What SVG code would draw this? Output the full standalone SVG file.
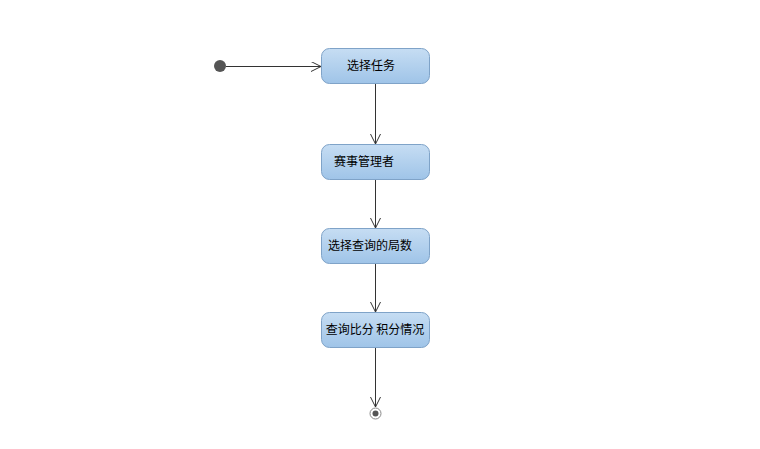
<svg xmlns="http://www.w3.org/2000/svg" width="760" height="449" viewBox="0 0 760 449">
<defs>
<linearGradient id="g" x1="0" y1="0" x2="0" y2="1"><stop offset="0" stop-color="#c6ddf3"/><stop offset="1" stop-color="#9fc4e8"/></linearGradient>
<marker id="a" markerWidth="12" markerHeight="12" refX="10" refY="5" orient="auto" markerUnits="userSpaceOnUse"><path d="M0,0 L10,5 L0,10" fill="none" stroke="#333" stroke-width="1"/></marker>
<style>.n{fill:url(#g);stroke:#7fa3c8;stroke-width:1}.t{font-family:"Noto Sans CJK SC",sans-serif;font-size:12px;fill:#000;text-anchor:middle}.c{stroke:#333;stroke-width:1;fill:none;marker-end:url(#a)}</style>
</defs>
<rect width="760" height="449" fill="#fff"/>
<g id="start"><circle cx="220" cy="66" r="6" fill="#555"/></g>
<g id="n1"><rect class="n" x="321.500" y="48.500" width="108" height="35" rx="8"/><text class="t" x="371" y="70">选择任务</text></g>
<g id="n2"><rect class="n" x="321.500" y="144.500" width="108" height="35" rx="8"/><text class="t" x="364" y="166">赛事管理者</text></g>
<g id="n3"><rect class="n" x="321.500" y="228.500" width="108" height="35" rx="8"/><text class="t" x="370" y="250">选择查询的局数</text></g>
<g id="n4"><rect class="n" x="321.500" y="312.500" width="108" height="35" rx="8"/><text class="t" x="375" y="334">查询比分 积分情况</text></g>
<g id="end"><circle cx="375.500" cy="413.500" r="5.500" fill="#fff" stroke="#888"/><circle cx="375.500" cy="413.500" r="3" fill="#555"/></g>
<g id="connectors">
<path class="c" d="M226,66.500 H321"/>
<path class="c" d="M375.500,84 V144"/>
<path class="c" d="M375.500,180 V228"/>
<path class="c" d="M375.500,264 V312"/>
<path class="c" d="M375.500,348 V407"/>
</g>
</svg>
